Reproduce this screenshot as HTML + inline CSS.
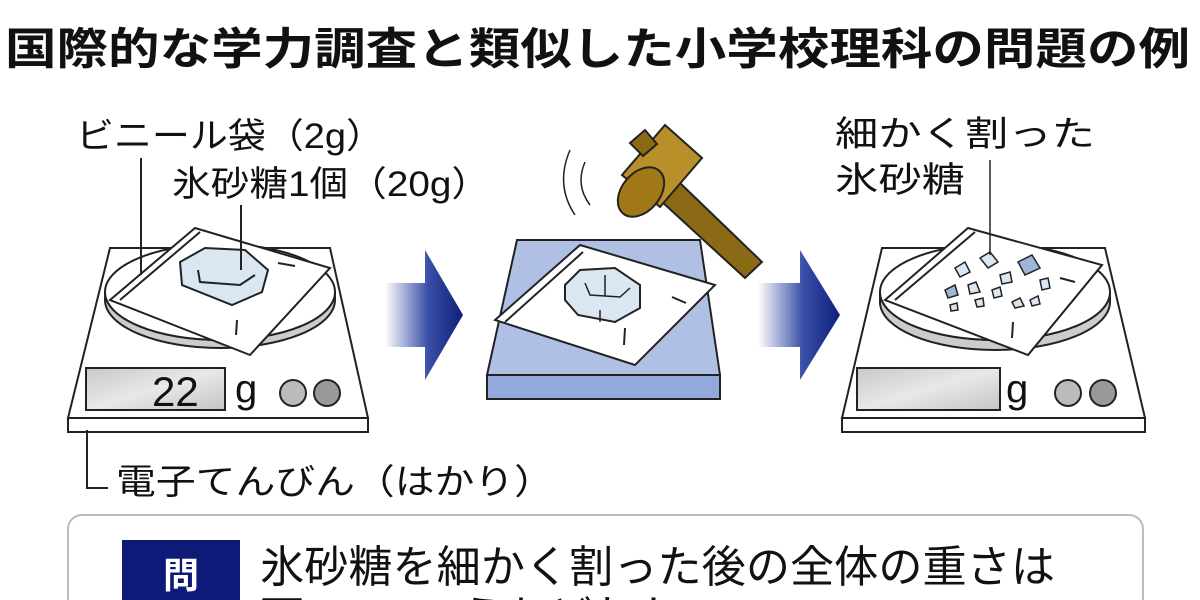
<!DOCTYPE html>
<html><head><meta charset="utf-8"><style>
html,body{margin:0;padding:0;background:#fff;width:1200px;height:600px;overflow:hidden}
svg{display:block}
text{font-family:"Liberation Sans","Noto Sans CJK JP",sans-serif;fill:#111}
</style></head><body>
<svg width="1200" height="600" viewBox="0 0 1200 600" xmlns="http://www.w3.org/2000/svg">
<defs>
<linearGradient id="ar" x1="0" x2="1" y1="0" y2="0">
<stop offset="0" stop-color="#fff"/><stop offset="0.55" stop-color="#3a4fa8"/><stop offset="1" stop-color="#0d1f7a"/>
</linearGradient>
<linearGradient id="disp" x1="0" x2="1" y1="0" y2="1">
<stop offset="0" stop-color="#c8c8c8"/><stop offset="0.5" stop-color="#e8e8e8"/><stop offset="1" stop-color="#c4c4c4"/>
</linearGradient>
</defs>
<text x="5" y="64" font-size="44" font-weight="bold" textLength="1185" lengthAdjust="spacingAndGlyphs">国際的な学力調査と類似した小学校理科の問題の例</text>

<!-- left scale -->
<g stroke="#222" stroke-width="2" fill="#fff">
<polygon points="110,248 330,248 368,418 68,418"/>
<rect x="68" y="418" width="300" height="14"/>
<path d="M105,292 A115,48 0 0 0 335,292 L335,300 A115,48 0 0 1 105,300 Z" fill="#ccc"/>
<ellipse cx="220" cy="292" rx="115" ry="48"/>
<polygon points="110,300 195,228 330,268 250,355" fill="#fff"/>
<line x1="120" y1="300" x2="200" y2="232"/>
<polygon points="180,262 205,248 245,250 268,270 262,292 232,305 182,285" fill="#dbe6f3"/>
<path d="M198,270 L200,282 L240,285 L255,275" fill="none"/>
<line x1="278" y1="263" x2="295" y2="266"/>
<line x1="237" y1="320" x2="236" y2="335"/>
<rect x="86" y="368" width="139" height="42" fill="url(#disp)"/>
<circle cx="293" cy="393" r="13" fill="#bbb"/>
<circle cx="327" cy="393" r="13" fill="#999"/>
</g>
<text x="152" y="406" font-size="42">22</text>
<text x="235" y="402" font-size="40">g</text>
<g stroke="#222" stroke-width="2" fill="none">
<line x1="141" y1="158" x2="141" y2="275"/>
<line x1="241" y1="205" x2="241" y2="270"/>
<polyline points="87,430 87,488 108,488"/>
</g>
<text x="76" y="148" font-size="35" textLength="308" lengthAdjust="spacingAndGlyphs">ビニール袋（2g）</text>
<text x="172" y="196" font-size="35" textLength="318" lengthAdjust="spacingAndGlyphs">氷砂糖1個（20g）</text>
<text x="116" y="494" font-size="35" textLength="438" lengthAdjust="spacingAndGlyphs">電子てんびん（はかり）</text>

<!-- arrows -->
<polygon points="385,283 425,283 425,250 463,315 425,380 425,347 385,347" fill="url(#ar)"/>
<polygon points="758,283 800,283 800,250 840,315 800,380 800,347 758,347" fill="url(#ar)"/>

<!-- middle -->
<g stroke="#222" stroke-width="2">
<polygon points="517,240 700,240 720,375 487,375" fill="#b0c0e4"/>
<rect x="487" y="375" width="233" height="24" fill="#93a9dc"/>
<polygon points="495,320 580,245 715,285 635,365" fill="#fff"/>
<line x1="505" y1="322" x2="583" y2="252"/>
<polygon points="565,285 580,270 615,268 640,285 640,308 615,322 578,315 565,300" fill="#dbe6f3"/>
<path d="M585,283 L590,295 L620,297 L630,288 M605,275 L605,296 M600,310 L600,322" fill="none" stroke-width="1.5"/>
<line x1="672" y1="297" x2="686" y2="303"/>
<line x1="625" y1="328" x2="624" y2="345"/>
<polygon points="660,200 680,183 762,262 745,278" fill="#8a6a15"/>
<polygon points="622,175 665,125 702,158 660,207" fill="#b8902a"/>
<ellipse cx="641" cy="192" rx="19" ry="28" transform="rotate(40 641 192)" fill="#a07818"/>
<polygon points="630,143 645,130 657,144 643,156" fill="#8a6a15"/>
</g>
<g stroke="#222" stroke-width="1.5" fill="none">
<path d="M570,150 Q555,185 575,215"/>
<path d="M585,162 Q575,185 590,205"/>
</g>

<!-- right scale -->
<g stroke="#222" stroke-width="2" fill="#fff">
<polygon points="882,248 1105,248 1145,418 842,418"/>
<rect x="842" y="418" width="303" height="14"/>
<path d="M880,292 A115,48 0 0 0 1110,292 L1110,302 A115,48 0 0 1 880,302 Z" fill="#ccc"/>
<ellipse cx="995" cy="292" rx="115" ry="48"/>
<polygon points="885,300 968,228 1102,265 1028,355" fill="#fff"/>
<line x1="895" y1="300" x2="975" y2="232"/>
<line x1="1060" y1="278" x2="1075" y2="282"/>
<line x1="1013" y1="322" x2="1012" y2="338"/>
<rect x="857" y="368" width="143" height="42" fill="url(#disp)"/>
<circle cx="1068" cy="393" r="13" fill="#bbb"/>
<circle cx="1103" cy="393" r="13" fill="#999"/>
</g>
<g stroke="#222" stroke-width="1.5" fill="#dbe6f3">
<polygon points="955,268 965,262 970,272 960,277"/>
<polygon points="980,258 990,252 998,262 988,268"/>
<polygon points="1018,262 1032,255 1040,268 1025,275" fill="#9fb6d8"/>
<polygon points="1000,275 1010,272 1012,282 1002,284"/>
<polygon points="945,290 955,285 958,295 948,298" fill="#9fb6d8"/>
<polygon points="968,285 976,282 980,292 970,294"/>
<polygon points="992,290 1000,287 1002,296 994,298"/>
<polygon points="1040,280 1048,278 1050,288 1042,290"/>
<polygon points="1012,302 1020,298 1024,306 1015,308"/>
<polygon points="975,300 983,298 984,306 977,307"/>
<polygon points="1030,300 1038,296 1040,304 1032,306"/>
<polygon points="950,305 957,303 958,310 951,311"/>
</g>
<line x1="990" y1="160" x2="990" y2="255" stroke="#222" stroke-width="1.5"/>
<text x="1006" y="402" font-size="40">g</text>
<text x="835" y="146" font-size="35" textLength="260" lengthAdjust="spacingAndGlyphs">細かく割った</text>
<text x="835" y="192" font-size="35" textLength="130" lengthAdjust="spacingAndGlyphs">氷砂糖</text>

<!-- question box -->
<rect x="68" y="515" width="1075" height="110" rx="14" fill="#fff" stroke="#bbb" stroke-width="2"/>
<rect x="122" y="540" width="118" height="70" fill="#0e1a78"/>
<text x="181" y="588" font-size="36" font-weight="bold" text-anchor="middle" style="fill:#fff">問</text>
<text x="260" y="582" font-size="44" textLength="795" lengthAdjust="spacingAndGlyphs">氷砂糖を細かく割った後の全体の重さは</text>
<text x="260" y="632" font-size="44">下の4つのうちどれか</text>
</svg>
</body></html>
